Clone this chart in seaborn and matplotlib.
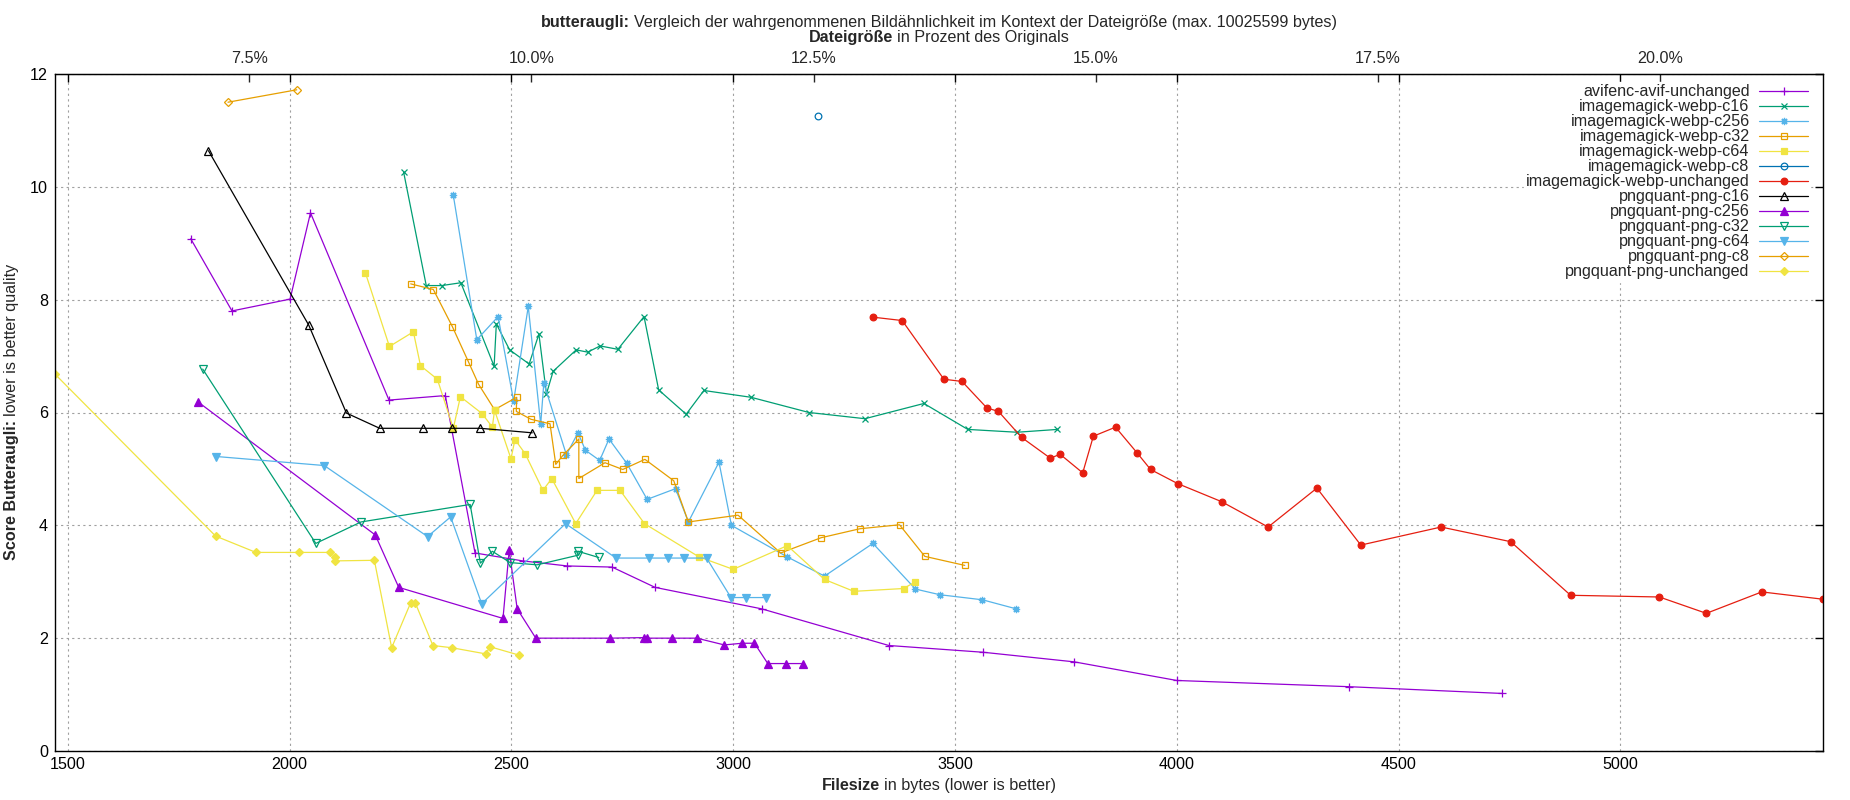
import matplotlib
matplotlib.use('Agg')
import matplotlib.pyplot as plt
from matplotlib.ticker import FuncFormatter
import seaborn as sns
import pandas as pd

# file sizes (bytes) and butteraugli scores
avif_bytes = [1777, 1870, 2001, 2047, 2224, 2351, 2418, 2525, 2626, 2727, 2824, 3064, 3351, 3564, 3769, 4000, 4388, 4734]
avif_score = [9.08, 7.80, 8.01, 9.54, 6.22, 6.30, 3.51, 3.37, 3.28, 3.26, 2.90, 2.52, 1.87, 1.75, 1.58, 1.25, 1.14, 1.02]

webp_c16_bytes = [2257, 2308, 2343, 2386, 2461, 2466, 2496, 2540, 2562, 2579, 2594, 2646, 2672, 2700, 2740, 2799, 2832,
                  2894, 2934, 3040, 3171, 3297, 3430, 3529, 3640, 3731]
webp_c16_score = [10.26, 8.25, 8.25, 8.30, 6.82, 7.57, 7.11, 6.86, 7.39, 6.33, 6.73, 7.11, 7.07, 7.18, 7.12, 7.70, 6.40,
                  5.97, 6.39, 6.27, 6.00, 5.89, 6.16, 5.70, 5.65, 5.70]

webp_c256_bytes = [2369, 2422, 2470, 2505, 2538, 2566, 2573, 2624, 2650, 2667, 2699, 2720, 2760, 2806, 2870, 2899, 2968,
                   2996, 3122, 3206, 3315, 3411, 3466, 3562, 3638]
webp_c256_score = [9.85, 7.29, 7.70, 6.20, 7.88, 5.79, 6.52, 5.25, 5.64, 5.33, 5.15, 5.53, 5.10, 4.46, 4.65, 4.06, 5.12,
                   4.00, 3.44, 3.10, 3.68, 2.87, 2.77, 2.68, 2.52]

webp_c32_bytes = [2273, 2324, 2367, 2403, 2426, 2462, 2512, 2511, 2544, 2587, 2600, 2616, 2652, 2652, 2711, 2751, 2801,
                  2866, 2899, 3011, 3107, 3198, 3286, 3375, 3432, 3522]
webp_c32_score = [8.28, 8.18, 7.52, 6.90, 6.50, 6.05, 6.27, 6.02, 5.88, 5.80, 5.08, 5.24, 5.53, 4.83, 5.11, 4.99, 5.17,
                  4.79, 4.06, 4.18, 3.51, 3.78, 3.94, 4.01, 3.45, 3.29]

webp_c64_bytes = [2171, 2225, 2279, 2295, 2333, 2369, 2385, 2434, 2457, 2462, 2499, 2508, 2531, 2571, 2591, 2645, 2693,
                  2745, 2800, 2923, 3000, 3122, 3206, 3272, 3384, 3411]
webp_c64_score = [8.47, 7.17, 7.43, 6.83, 6.59, 5.72, 6.28, 5.98, 5.74, 6.04, 5.18, 5.52, 5.27, 4.62, 4.83, 4.03, 4.62,
                  4.62, 4.03, 3.44, 3.22, 3.64, 3.04, 2.83, 2.88, 3.00]

webp_c8_bytes = [3192]
webp_c8_score = [11.25]

webp_unchanged_bytes = [3315, 3381, 3475, 3516, 3572, 3598, 3650, 3715, 3737, 3788, 3812, 3862, 3910, 3941, 4002, 4101,
                        4206, 4316, 4415, 4596, 4753, 4888, 5088, 5194, 5319, 5457]
webp_unchanged_score = [7.69, 7.63, 6.59, 6.55, 6.08, 6.02, 5.56, 5.19, 5.26, 4.93, 5.58, 5.74, 5.29, 4.99, 4.74, 4.42,
                        3.97, 4.66, 3.65, 3.97, 3.71, 2.76, 2.73, 2.44, 2.82, 2.69]

png_c16_bytes = [1817, 2043, 2128, 2203, 2300, 2367, 2430, 2547]
png_c16_score = [10.64, 7.55, 5.99, 5.72, 5.72, 5.72, 5.72, 5.64]

png_c256_bytes = [1793, 2193, 2246, 2481, 2495, 2513, 2555, 2722, 2800, 2806, 2862, 2918, 2980, 3020, 3048, 3078, 3118, 3158]
png_c256_score = [6.19, 3.83, 2.90, 2.35, 3.56, 2.52, 2.00, 2.00, 2.01, 2.00, 2.00, 2.00, 1.88, 1.91, 1.91, 1.55, 1.55, 1.55]

png_c32_bytes = [1804, 2059, 2161, 2407, 2430, 2457, 2497, 2558, 2650, 2650, 2697]
png_c32_score = [6.77, 3.68, 4.06, 4.37, 3.33, 3.54, 3.34, 3.30, 3.47, 3.54, 3.43]

png_c64_bytes = [1835, 2078, 2311, 2363, 2433, 2622, 2736, 2810, 2853, 2889, 2940, 2995, 3030, 3075]
png_c64_score = [5.22, 5.06, 3.80, 4.15, 2.61, 4.03, 3.42, 3.42, 3.42, 3.42, 3.42, 2.72, 2.72, 2.72]

png_c8_bytes = [1861, 2016]
png_c8_score = [11.50, 11.72]

png_unchanged_bytes = [1471, 1833, 1924, 2022, 2090, 2103, 2103, 2191, 2230, 2273, 2283, 2323, 2366, 2443, 2451, 2517]
png_unchanged_score = [6.68, 3.81, 3.52, 3.52, 3.52, 3.44, 3.37, 3.38, 1.83, 2.63, 2.63, 1.87, 1.83, 1.72, 1.85, 1.70]

original_bytes = 25450
x_min, x_max = 1471, 5457

ASTERISK = (8, 2, 0)
series = [
    ('avifenc-avif-unchanged', avif_bytes, avif_score, '#9400d3', '+', True),
    ('imagemagick-webp-c16', webp_c16_bytes, webp_c16_score, '#009e73', 'x', True),
    ('imagemagick-webp-c256', webp_c256_bytes, webp_c256_score, '#56b4e9', ASTERISK, True),
    ('imagemagick-webp-c32', webp_c32_bytes, webp_c32_score, '#e69f00', 's', False),
    ('imagemagick-webp-c64', webp_c64_bytes, webp_c64_score, '#f0e442', 's', True),
    ('imagemagick-webp-c8', webp_c8_bytes, webp_c8_score, '#0072b2', 'o', False),
    ('imagemagick-webp-unchanged', webp_unchanged_bytes, webp_unchanged_score, '#e51e10', 'o', True),
    ('pngquant-png-c16', png_c16_bytes, png_c16_score, '#000000', '^', False),
    ('pngquant-png-c256', png_c256_bytes, png_c256_score, '#9400d3', '^', True),
    ('pngquant-png-c32', png_c32_bytes, png_c32_score, '#009e73', 'v', False),
    ('pngquant-png-c64', png_c64_bytes, png_c64_score, '#56b4e9', 'v', True),
    ('pngquant-png-c8', png_c8_bytes, png_c8_score, '#e69f00', 'D', False),
    ('pngquant-png-unchanged', png_unchanged_bytes, png_unchanged_score, '#f0e442', 'D', True),
]
marker_size = {'+': 5.8, 'x': 4.8, 's': 4.8, 'o': 4.8, '^': 5.8, 'v': 5.8, 'D': 4.0}
FS = 11.6

sns.set_style('white')
plt.rcParams['font.family'] = ['Liberation Sans', 'DejaVu Sans']

W, H = 1850, 800
fig = plt.figure(figsize=(W / 100, H / 100), dpi=100)
ax = fig.add_axes([55 / W, 1 - 751 / H, (1823 - 55) / W, (751 - 74) / H])

for name, xs, ys, color, marker, filled in series:
    df = pd.DataFrame({'bytes': xs, 'score': ys})
    ms = marker_size.get(marker, 5.2) if not isinstance(marker, tuple) else 5.2
    sns.lineplot(data=df, x='bytes', y='score', ax=ax, sort=False, estimator=None,
                 color=color, lw=0.9, marker=marker, ms=ms, mec=color,
                 mfc=color if filled else 'none', mew=0.9, label=name)

ax.set_xlim(x_min, x_max)
ax.set_ylim(0, 12)
ax.set_xticks(range(1500, 5001, 500))
ax.set_yticks(range(0, 13, 2))
ax.grid(True, color='#a0a0a0', linestyle=(0, (2, 3)), lw=0.8)
ax.set_axisbelow(True)
ax.set_xlabel('')
ax.set_ylabel('')
for sp in ax.spines.values():
    sp.set_color('black')
    sp.set_linewidth(1.0)
ax.tick_params(axis='both', direction='in', length=6, width=1, top=True, right=True,
               labelsize=FS, colors='black')
ax.tick_params(axis='y', pad=5)
ax.tick_params(axis='x', pad=4)

# percent of the original on top
sec = ax.secondary_xaxis('top', functions=(lambda b: b / original_bytes * 100,
                                           lambda p: p * original_bytes / 100))
sec.set_xticks([7.5, 10.0, 12.5, 15.0, 17.5, 20.0])
sec.xaxis.set_major_formatter(FuncFormatter(lambda v, pos: f'{v:.1f}%'))
sec.tick_params(direction='in', length=6, width=1, labelsize=FS, pad=6)

leg = ax.legend(loc='upper right', bbox_to_anchor=(1, 1 + 5 / 677), markerfirst=False,
                frameon=True, fancybox=False, facecolor='white', edgecolor='white',
                framealpha=1, fontsize=FS, handlelength=3.0, handletextpad=0.6,
                labelspacing=0.0, borderpad=0.15, borderaxespad=0.8)


def bold_lead(x, y, lead, rest, rotation=0):
    kw = dict(fontsize=FS, rotation=rotation, rotation_mode='anchor', ha='center', va='baseline')
    t1 = fig.text(x, y, lead, fontweight='bold', **kw)
    t2 = fig.text(x, y, rest, **kw)
    fig.canvas.draw()
    r = fig.canvas.get_renderer()
    b1 = t1.get_window_extent(r)
    b2 = t2.get_window_extent(r)
    gap = 4.4
    if rotation == 0:
        w1, w2 = b1.width, b2.width
        x0 = x * W - (w1 + gap + w2) / 2
        t1.set_x((x0 + w1 / 2) / W)
        t2.set_x((x0 + w1 + gap + w2 / 2) / W)
    else:
        w1, w2 = b1.height, b2.height
        y0 = y * H - (w1 + gap + w2) / 2
        t1.set_y((y0 + w1 / 2) / H)
        t2.set_y((y0 + w1 + gap + w2 / 2) / H)


cx = (55 + 1823) / 2 / W
bold_lead(cx, 1 - 27 / H, 'butteraugli:',
          'Vergleich der wahrgenommenen Bildähnlichkeit im Kontext der Dateigröße (max. 10025599 bytes)')
bold_lead(cx, 1 - 42 / H, 'Dateigröße', 'in Prozent des Originals')
bold_lead(cx, 1 - 790 / H, 'Filesize', 'in bytes (lower is better)')
bold_lead(16 / W, 1 - 412 / H, 'Score Butteraugli:', 'lower is better quality', rotation=90)

fig.savefig('out.png', dpi=100)
